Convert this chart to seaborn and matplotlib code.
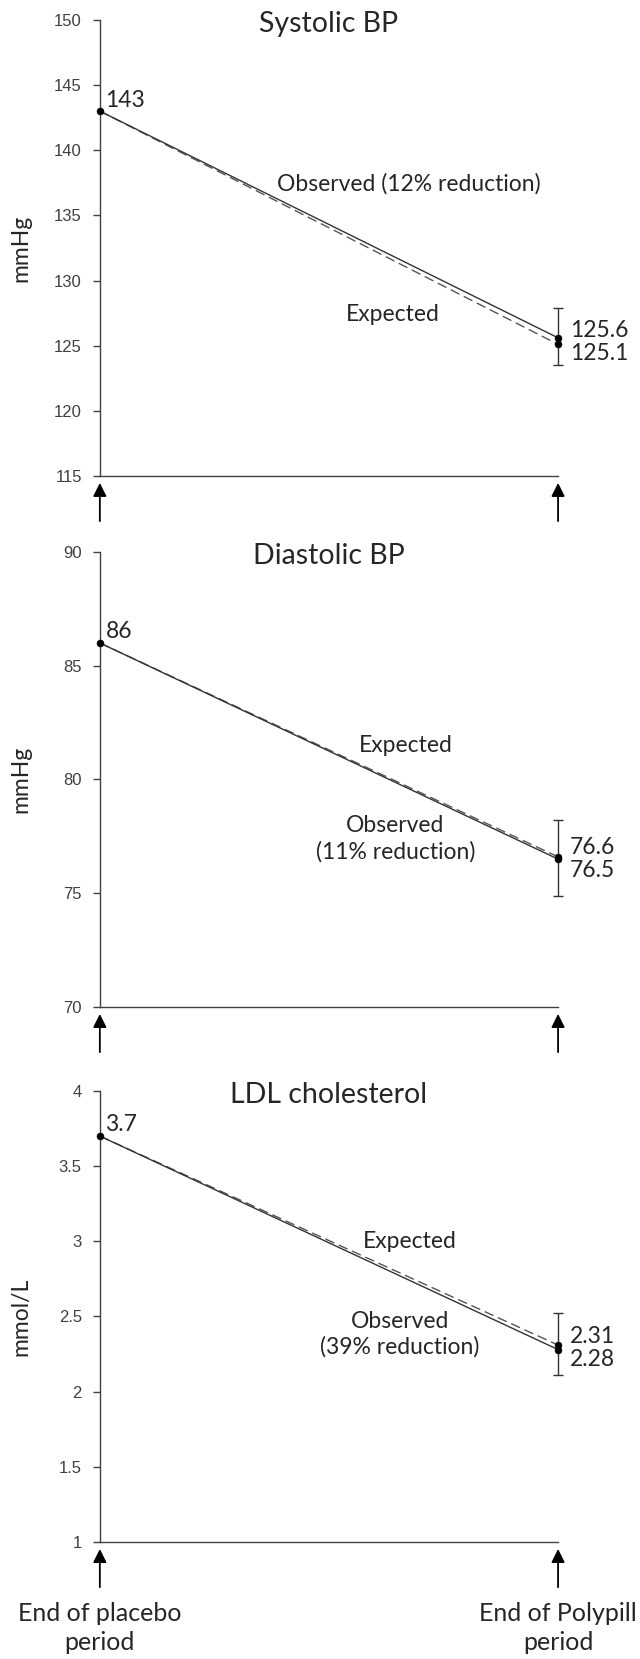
import numpy as np
import pandas as pd
import matplotlib
matplotlib.use('Agg')
import matplotlib.pyplot as plt
import seaborn as sns

# data
timepoints = [0, 1]
titles = ['Systolic BP', 'Diastolic BP', 'LDL cholesterol']
units = ['mmHg', 'mmHg', 'mmol/L']
baseline = [143, 86, 3.7]
observed_end = [125.6, 76.5, 2.28]
expected_end = [125.1, 76.6, 2.31]
err_low = [123.5, 74.9, 2.11]
err_high = [127.9, 78.2, 2.52]
base_labels = ['143', '86', '3.7']
upper_labels = ['125.6', '76.6', '2.31']
lower_labels = ['125.1', '76.5', '2.28']
obs_text = ['Observed (12% reduction)', 'Observed\n(11% reduction)', 'Observed\n(39% reduction)']
ylims = [(115, 150), (70, 90), (1, 4)]
yticks = [[115, 120, 125, 130, 135, 140, 145, 150],
          [70, 75, 80, 85, 90],
          [1, 1.5, 2, 2.5, 3, 3.5, 4]]
ytick_labels = [['115', '120', '125', '130', '135', '140', '145', '150'],
                ['70', '75', '80', '85', '90'],
                ['1', '1.5', '2', '2.5', '3', '3.5', '4']]
x_labels = ['End of placebo\nperiod', 'End of Polypill\nperiod']

sns.set_style('ticks')
plt.rcParams['font.family'] = ['Lato', 'DejaVu Sans']

fig = plt.figure(figsize=(6.4, 16.59), dpi=100)
boxes = [[0.156, 0.7131, 0.716, 0.2749],
         [0.156, 0.3930, 0.716, 0.2743],
         [0.156, 0.0705, 0.716, 0.2719]]
obs_pos = [(0.675, 137.4), (0.645, 77.4), (0.655, 2.38)]
exp_pos = [(0.64, 127.4), (0.667, 81.5), (0.676, 3.0)]
axis_col = '#404040'
fs = 16.5

for i in range(3):
    ax = fig.add_axes(boxes[i])
    obs = pd.DataFrame({'t': timepoints, 'v': [baseline[i], observed_end[i]]})
    exp = pd.DataFrame({'t': timepoints, 'v': [baseline[i], expected_end[i]]})
    sns.lineplot(data=exp, x='t', y='v', ax=ax, color='#555555', lw=1.0,
                 linestyle=(0, (7, 3.5)))
    sns.lineplot(data=obs, x='t', y='v', ax=ax, color='#333333', lw=1.0)
    sns.scatterplot(x=[0, 1, 1], y=[baseline[i], observed_end[i], expected_end[i]],
                    ax=ax, color='black', s=25, edgecolor='black', zorder=5, clip_on=False)
    ax.errorbar([1], [observed_end[i]],
                yerr=[[observed_end[i] - err_low[i]], [err_high[i] - observed_end[i]]],
                fmt='none', ecolor='#333333', elinewidth=1.0, capsize=3.5, capthick=1.0,
                clip_on=False)

    ax.set_xlim(0, 1)
    ax.set_ylim(*ylims[i])
    ax.set_yticks(yticks[i])
    ax.set_yticklabels(ytick_labels[i], fontfamily='Liberation Sans', fontsize=12, color=axis_col)
    ax.set_xticks([])
    ax.set_xlabel('')
    ax.set_ylabel(units[i], fontsize=16.5)
    ax.yaxis.set_label_coords(-0.15, 0.5)
    ax.tick_params(axis='y', direction='out', length=5, width=1, color=axis_col, pad=8)
    sns.despine(ax=ax)
    for s in ['left', 'bottom']:
        ax.spines[s].set_linewidth(1.0)
        ax.spines[s].set_color(axis_col)

    ax.text(0.5, 0.99, titles[i], transform=ax.transAxes, fontsize=20.5,
            ha='center', va='center')

    ax.annotate(base_labels[i], xy=(0, baseline[i]), xytext=(4, 8),
                textcoords='offset points', fontsize=fs, ha='left', va='center')
    mid = (observed_end[i] + expected_end[i]) / 2
    ax.annotate(upper_labels[i], xy=(1, mid), xytext=(8.5, 7.5), textcoords='offset points',
                fontsize=fs, ha='left', va='center', annotation_clip=False)
    ax.annotate(lower_labels[i], xy=(1, mid), xytext=(8.5, -9), textcoords='offset points',
                fontsize=fs, ha='left', va='center', annotation_clip=False)
    ax.text(exp_pos[i][0], exp_pos[i][1], 'Expected', fontsize=fs, ha='center', va='center')
    ax.text(obs_pos[i][0], obs_pos[i][1], obs_text[i], fontsize=fs, ha='center', va='center',
            linespacing=1.25)

    for x in timepoints:
        ax.annotate('', xy=(x, 0), xycoords=('data', 'axes fraction'), xytext=(0, -32.5),
                    textcoords='offset points', annotation_clip=False,
                    arrowprops=dict(arrowstyle='-|>', color='black', lw=1.3,
                                    shrinkA=0, shrinkB=5, mutation_scale=20))
    if i == 2:
        for x, lab in zip(timepoints, x_labels):
            ax.annotate(lab, xy=(x, 0), xycoords=('data', 'axes fraction'), xytext=(0, -62),
                        textcoords='offset points', ha='center', va='center', fontsize=18,
                        linespacing=1.35, annotation_clip=False)

fig.savefig('out.png', dpi=100)
